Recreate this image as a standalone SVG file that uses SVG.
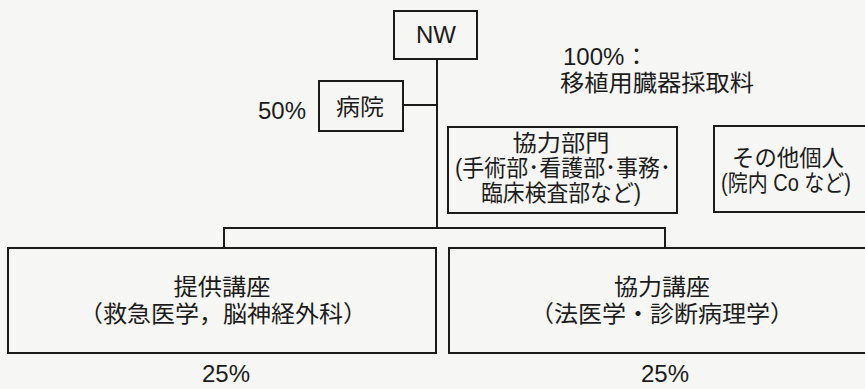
<svg xmlns="http://www.w3.org/2000/svg" width="865" height="389" viewBox="0 0 865 389">
<style>
.bg{fill:#f6f6f4}
.box{fill:none;stroke:#1c1c1c;stroke-width:2}
.ln{fill:none;stroke:#1c1c1c;stroke-width:2}
text{font-family:"Liberation Sans","Noto Sans CJK JP",sans-serif;fill:#1c1c1c;font-size:23px}
.lat{font-size:24px}
.mid{text-anchor:middle}
</style>
<rect class="bg" x="0" y="0" width="865" height="389"/>
<g id="connectors">
<path class="ln" d="M437,59 V228 M403,105 H437 M224,248 V228 H665 V248"/>
</g>
<g id="nw">
<rect class="box" x="394" y="11" width="83" height="48"/>
<text class="lat mid" x="436" y="43">NW</text>
</g>
<g id="hospital">
<rect class="box" x="319" y="81" width="84" height="50"/>
<text class="mid" x="360" y="115" textLength="48" lengthAdjust="spacingAndGlyphs">病院</text>
<text class="lat" x="258" y="119">50%</text>
</g>
<g id="fee-note">
<text class="lat" x="563" y="65">100%：</text>
<text x="560" y="91" textLength="194" lengthAdjust="spacingAndGlyphs">移植用臓器採取料</text>
</g>
<g id="coop-dept">
<rect class="box" x="448" y="127" width="229" height="86"/>
<text class="mid" x="561" y="151" textLength="97" lengthAdjust="spacingAndGlyphs">協力部門</text>
<text class="mid" x="563" y="176" textLength="216" lengthAdjust="spacingAndGlyphs">(手術部･看護部･事務･</text>
<text class="mid" x="561" y="201" textLength="160" lengthAdjust="spacingAndGlyphs">臨床検査部など)</text>
</g>
<g id="others">
<rect class="box" x="714" y="126" width="170" height="86"/>
<text class="mid" x="788" y="166" textLength="112" lengthAdjust="spacingAndGlyphs">その他個人</text>
<text x="721" y="191" font-size="21" textLength="130" lengthAdjust="spacingAndGlyphs">(院内 Co など)</text>
</g>
<g id="donor-dept">
<rect class="box" x="8" y="248" width="428" height="105"/>
<text class="mid" x="222" y="295" textLength="97" lengthAdjust="spacingAndGlyphs">提供講座</text>
<text class="mid" x="223" y="322" textLength="288" lengthAdjust="spacingAndGlyphs">（救急医学，脳神経外科）</text>
<text class="lat mid" x="226" y="382">25%</text>
</g>
<g id="coop-course">
<rect class="box" x="449" y="248" width="430" height="105"/>
<text class="mid" x="662" y="295" textLength="96" lengthAdjust="spacingAndGlyphs">協力講座</text>
<text class="mid" x="662" y="322" textLength="264" lengthAdjust="spacingAndGlyphs">（法医学・診断病理学）</text>
<text class="lat mid" x="665" y="382">25%</text>
</g>
</svg>
